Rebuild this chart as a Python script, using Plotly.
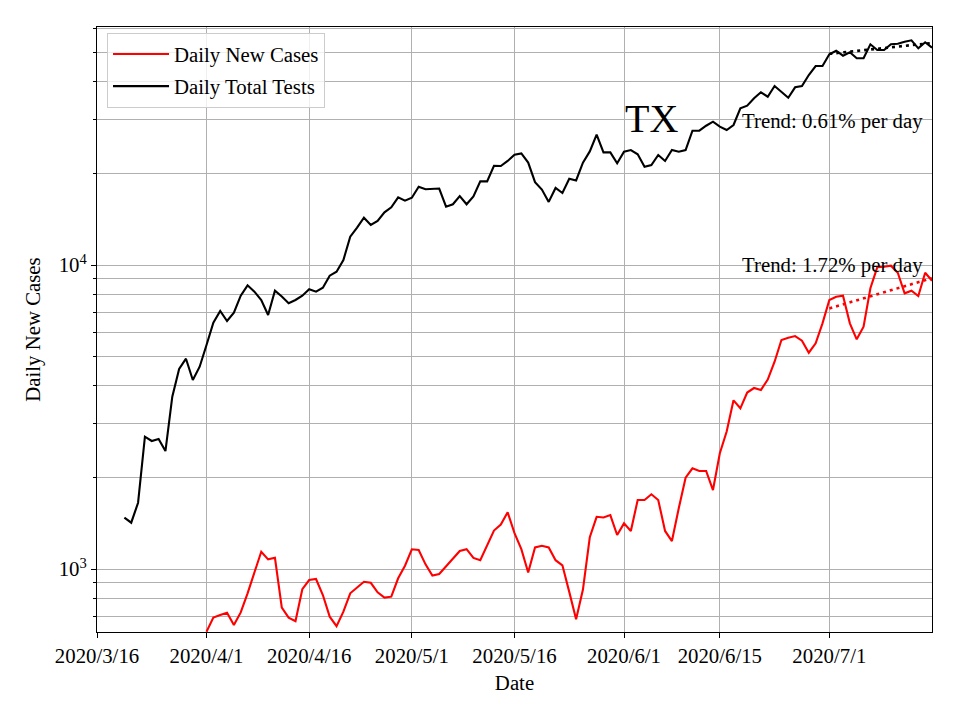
import math
import pandas as pd
import plotly.graph_objects as go

# ---------------- data ----------------
tests_start = "2020-03-20"
daily_tests = [
    1475, 1420, 1652, 2724, 2637, 2677, 2444, 3688, 4549, 4918,
    4184, 4629, 5455, 6460, 7058, 6543, 6968, 7925, 8575, 8170,
    7673, 6846, 8232, 7878, 7482, 7673, 7925, 8320, 8170, 8421,
    9222, 9506, 10385, 12391, 13265, 14310, 13540, 13955, 14905, 15478,
    16700, 16275, 16650, 18093, 17742, 17824, 17850, 15550, 15840, 16850,
    15840, 16815, 18836, 18836, 21212, 21170, 21999, 23040, 23285, 21718,
    18737, 17701, 16129, 17927, 17250, 19225, 18979, 21718, 23641, 26845,
    23463, 23470, 21604, 23587, 23893, 23125, 21055, 21325, 23003, 21985,
    23893, 23587, 23893, 27655, 27655, 28720, 29605, 28502, 27800, 28873,
    32771, 33420, 35352, 37000, 35780, 38800, 37170, 35500, 38420, 38800,
    42170, 45140, 45140, 49330, 50690, 48810, 50080, 47850, 47850, 53210,
    50960, 50960, 53210, 53460, 54270, 54850, 51620, 54030, 51860,
]

cases_start = "2020-04-01"
daily_cases = [
    622, 692, 706, 718, 654, 720, 832, 980, 1140, 1076,
    1089, 746, 692, 674, 858, 920, 927, 821, 697, 649,
    724, 832, 868, 908, 901, 838, 805, 811, 932, 1025,
    1161, 1155, 1036, 951, 963, 1021, 1074, 1146, 1162, 1088,
    1069, 1198, 1338, 1400, 1536, 1312, 1162, 974, 1177, 1192,
    1177, 1069, 1028, 841, 683, 856, 1272, 1485, 1477, 1505,
    1294, 1413, 1334, 1687, 1687, 1761, 1687, 1334, 1236, 1584,
    1997, 2144, 2101, 2101, 1819, 2402, 2834, 3588, 3378, 3807,
    3939, 3880, 4201, 4807, 5666, 5766, 5840, 5636, 5146, 5527,
    6430, 7673, 7866, 7925, 6430, 5696, 6266, 8384, 9827, 9872,
    9947, 9434, 8070, 8232, 7907, 9434, 8879,
]

trend_dates = ["2020-07-01", "2020-07-16"]
cases_trend = [7200, 9050]
tests_trend = [49500, 53750]

tick_dates = ["2020-03-16", "2020-04-01", "2020-04-16", "2020-05-01",
              "2020-05-16", "2020-06-01", "2020-06-15", "2020-07-01"]
tick_labels = ["2020/3/16", "2020/4/1", "2020/4/16", "2020/5/1",
               "2020/5/16", "2020/6/1", "2020/6/15", "2020/7/1"]

y_major = [1000, 10000]
y_major_labels = ["10<sup>3</sup>", "10<sup>4</sup>"]
y_minor = [700, 800, 900, 2000, 3000, 4000, 5000, 6000, 7000, 8000, 9000,
           20000, 30000, 40000, 50000, 60000]

state_label = "TX"
tests_trend_text = "Trend: 0.61% per day"
cases_trend_text = "Trend: 1.72% per day"

# ---------------- figure ----------------
FONT = "Liberation Serif, Times New Roman, serif"
FS = 20.8

tests_dates = pd.date_range(tests_start, periods=len(daily_tests), freq="D")
cases_dates = pd.date_range(cases_start, periods=len(daily_cases), freq="D")

fig = go.Figure()
fig.add_trace(go.Scatter(x=cases_dates, y=daily_cases, mode="lines",
                         name="Daily New Cases", legendgroup="a",
                         line=dict(color="#ff0000", width=2.1)))
fig.add_trace(go.Scatter(x=tests_dates, y=daily_tests, mode="lines",
                         name="Daily Total Tests", legendgroup="b",
                         line=dict(color="#000000", width=2.1)))
fig.add_trace(go.Scatter(x=trend_dates, y=cases_trend, mode="lines",
                         showlegend=False,
                         line=dict(color="#ff0000", width=2.6, dash="3px,4px")))
fig.add_trace(go.Scatter(x=trend_dates, y=tests_trend, mode="lines",
                         showlegend=False,
                         line=dict(color="#000000", width=2.6, dash="3px,4px")))

grid = "#b0b0b0"
# the page body adds an 8px offset, so margins are shifted by 8px
fig.update_layout(
    width=960, height=720,
    margin=dict(l=89, r=36, t=19, b=96),
    paper_bgcolor="white", plot_bgcolor="white",
    font=dict(family=FONT, size=FS, color="black"),
    showlegend=True,
    legend=dict(x=0.012, y=0.99, xanchor="left", yanchor="top",
                bgcolor="rgba(255,255,255,0.8)", bordercolor="#cccccc",
                borderwidth=1, font=dict(family=FONT, size=FS),
                tracegroupgap=2, itemwidth=56),
    xaxis=dict(
        range=["2020-03-16", "2020-07-16"],
        tickvals=tick_dates, ticktext=tick_labels,
        ticks="outside", ticklen=5, tickwidth=1.1, tickcolor="black",
        showgrid=True, gridcolor=grid, gridwidth=1.1,
        showline=True, linecolor="black", linewidth=1.2, mirror=True,
        zeroline=False,
        title=dict(text="Date", font=dict(family=FONT, size=FS), standoff=9),
        tickfont=dict(family=FONT, size=FS),
    ),
    yaxis=dict(
        type="log",
        range=[2.7928, 4.7829],
        tickvals=y_major, ticktext=y_major_labels,
        ticks="outside", ticklen=5, tickwidth=1.1, tickcolor="black",
        showgrid=True, gridcolor=grid, gridwidth=1.1,
        minor=dict(tickvals=y_minor, ticks="outside", ticklen=3,
                   tickcolor="black", showgrid=True, gridcolor=grid,
                   gridwidth=1.1),
        showline=True, linecolor="black", linewidth=1.2, mirror=True,
        zeroline=False,
        title=dict(text="Daily New Cases", font=dict(family=FONT, size=FS),
                   standoff=12),
        tickfont=dict(family=FONT, size=FS),
    ),
)

fig.add_annotation(text=state_label, xref="paper", yref="paper",
                   x=0.664, y=0.849, xanchor="center", yanchor="middle",
                   showarrow=False, font=dict(family=FONT, size=40))
fig.add_annotation(text=tests_trend_text, xref="paper", yref="paper",
                   x=0.992, y=0.8454, xanchor="right", yanchor="middle",
                   showarrow=False, font=dict(family=FONT, size=FS))
fig.add_annotation(text=cases_trend_text, xref="paper", yref="paper",
                   x=0.992, y=0.6073, xanchor="right", yanchor="middle",
                   showarrow=False, font=dict(family=FONT, size=FS))

fig.write_html("out.html")
